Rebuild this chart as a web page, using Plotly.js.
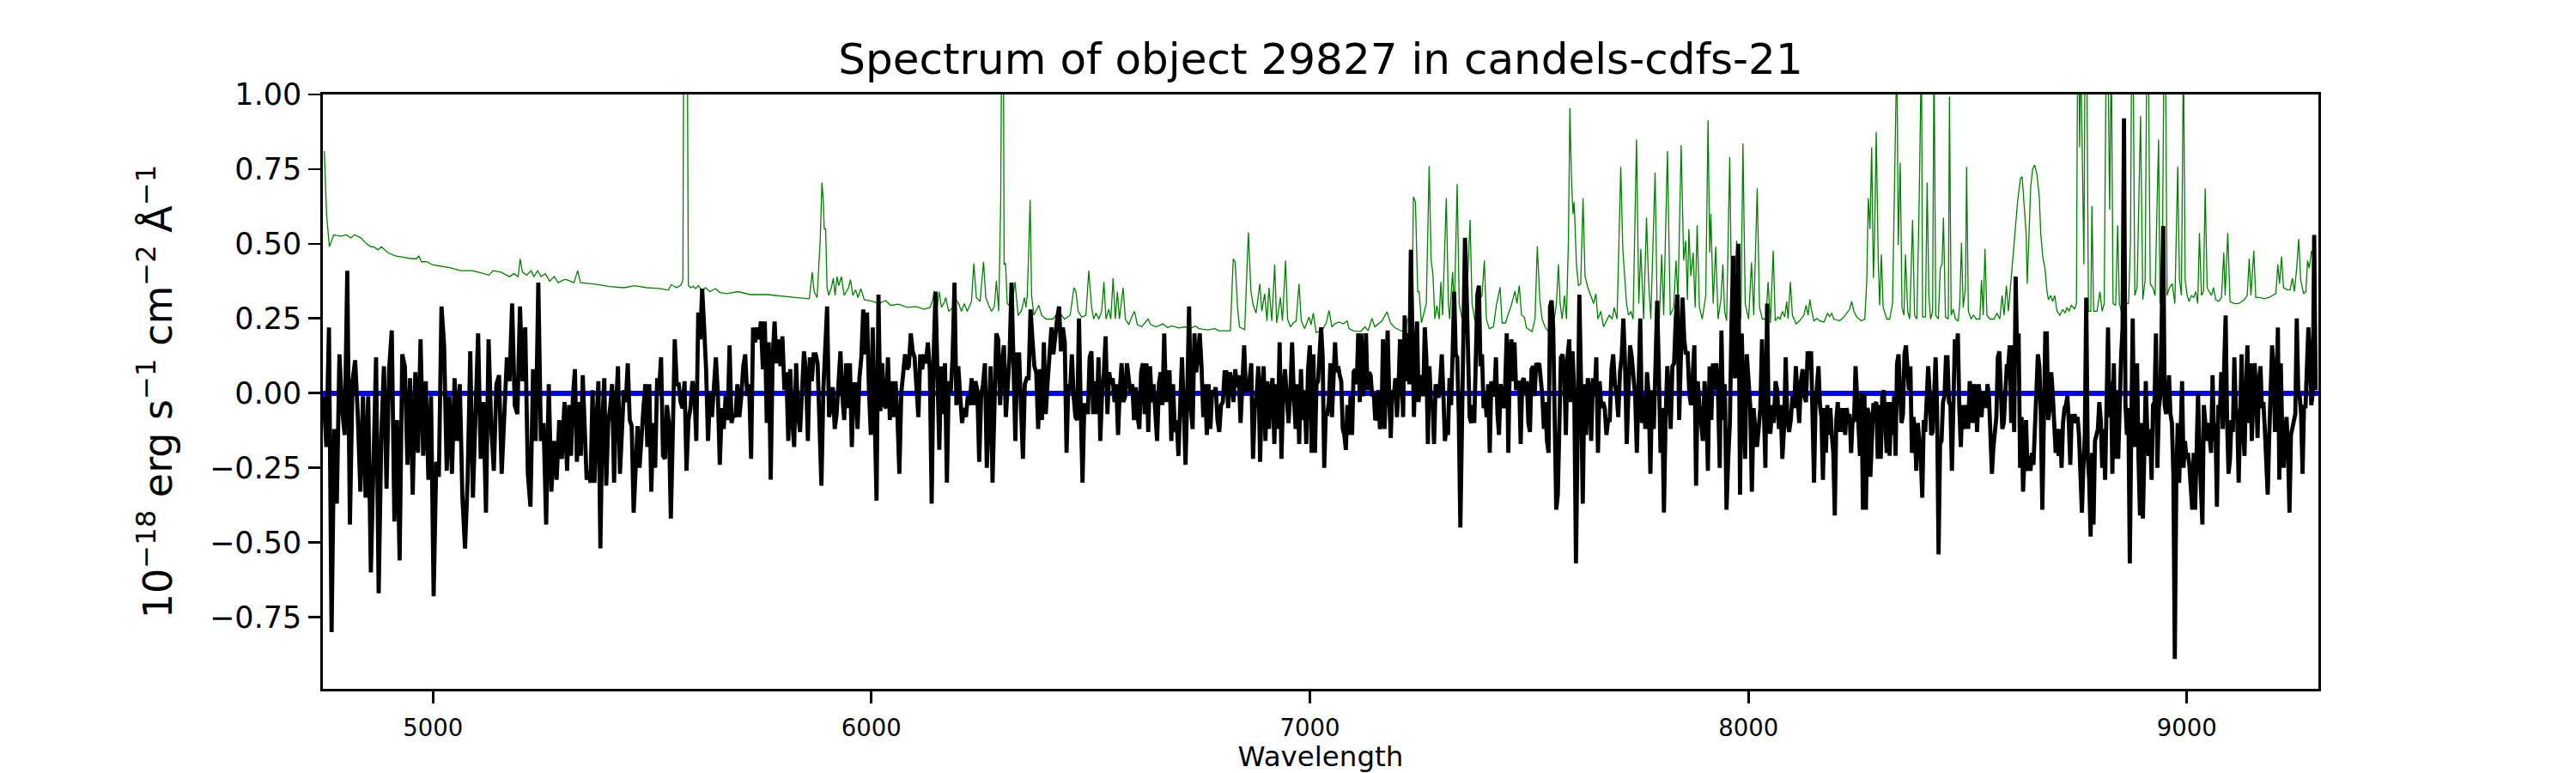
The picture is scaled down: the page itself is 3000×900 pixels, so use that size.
<!DOCTYPE html>
<html>
<head>
<meta charset="utf-8">
<script src="https://cdn.plot.ly/plotly-3.0.1.min.js"></script>
<style>html,body{margin:0;padding:0;background:#fff;}#chart{width:3000px;height:900px;}</style>
</head>
<body>
<div id="chart"></div>
<script>
// ---------- DATA ----------
const chartTitle = "Spectrum of object 29827 in candels-cdfs-21";
const xTitle = "Wavelength";
const yTitle = "10<sup>\u221218</sup> erg s<sup>\u22121</sup> cm<sup>\u22122</sup> \u00C5<sup>\u22121</sup>";

// Flux (black), split into wavelength pieces; each piece is sampled evenly over its span [start, end)
const fluxSpan0 = [4751, 5306];
const flux0 = [-0.01,-0.18,0.22,-0.80,-0.12,-0.37,0.13,-0.05,-0.14,0.41,-0.44,0.04,0.11,-0.07,-0.33,-0.01,-0.35,-0.01,-0.60,-0.18,0.12,-0.67,-0.14,0.09,-0.32,0.08,0.21,-0.43,-0.09,-0.56,0.13,0.09,-0.24,0.05,-0.34,0.07,-0.20,0.18,-0.21,0.04,-0.29,-0.01,-0.68,-0.23,-0.28,0.29,0.16,-0.26,-0.01,-0.27,0.05,-0.16,0.03,-0.35,-0.52,-0.29,0.14,-0.35,-0.01,0.20,-0.22,-0.03,-0.40,0.18,-0.11,-0.26,0.03,0.06,-0.27,-0.04,0.12,0.04,0.30,-0.04,-0.07,0.29,0.04,0.22,-0.27,-0.38,0.08,-0.16,0.37,-0.16,-0.10,-0.44,0.03,-0.33,-0.16,-0.29,-0.09,-0.22,-0.03];
const fluxSpan1 = [5306, 5873];
const flux1 = [-0.26,-0.04,-0.21,-0.01,0.08,-0.23,-0.03,-0.21,0.06,-0.14,-0.29,-0.26,-0.30,0.01,-0.30,-0.10,0.04,-0.52,-0.10,0.05,-0.31,-0.10,-0.05,0.03,-0.30,-0.05,0.09,-0.27,-0.08,0.01,-0.03,0.10,-0.09,-0.11,-0.40,-0.21,-0.11,-0.25,-0.12,-0.05,0.03,-0.18,0.03,-0.33,-0.10,-0.25,0.05,0.01,0.12,-0.21,-0.22,-0.04,-0.10,-0.42,-0.13,0.18,0.03,0.03,-0.03,-0.05,0.04,-0.26,-0.09,-0.05,0.04,0.01,-0.16,0.27,0.18,0.35,0.22,0.08,-0.16,0.00,-0.08,0.00,0.12,0.00,-0.24,-0.05,-0.12,-0.01,-0.09,0.16,-0.10,-0.07,-0.08,0.03,-0.08,-0.01,0.09,0.13,-0.01,0.03,-0.22,0.22,0.17,0.22,0.18,0.24,0.08,0.24,-0.10,0.17,-0.29,0.12,0.24,0.10,0.18,0.09,0.19,0.01,0.07,-0.16,0.08,-0.09,-0.18,0.10,-0.07,-0.13,0.01,0.14,0.07,-0.16,0.12,0.04,0.13];
const fluxSpan2 = [5873, 6441];
const flux2 = [0.13,0.10,-0.13,-0.31,0.01,0.20,0.29,-0.08,-0.05,0.02,-0.12,-0.07,0.07,0.14,-0.01,-0.09,0.10,-0.05,0.10,-0.18,0.03,0.03,-0.12,0.05,0.12,0.28,0.13,0.27,0.01,-0.14,0.22,-0.07,-0.36,0.33,-0.06,0.10,-0.04,-0.05,0.12,-0.09,0.04,-0.08,0.04,-0.08,-0.27,0.00,0.07,0.13,0.08,0.09,0.20,0.14,0.12,0.03,-0.08,0.13,0.08,0.13,0.10,0.17,0.08,-0.37,0.12,0.34,0.07,-0.19,0.09,-0.07,0.10,-0.30,0.04,0.00,0.12,0.37,-0.04,0.09,-0.01,-0.10,-0.05,-0.08,-0.01,-0.04,0.05,-0.04,0.04,0.01,-0.23,-0.01,0.03,0.10,-0.25,-0.03,0.09,-0.30,0.01,0.20,0.18,-0.04,0.10,0.16,-0.08,0.01,0.13,0.37,0.12,-0.16,0.13,0.13,-0.05,-0.22,0.03,0.05,0.05,0.28,0.18,0.09,0.07,-0.12,0.08,-0.09,0.17,-0.07,0.04,0.14,0.22,0.13,0.20,0.25,0.29,0.14,0.22];
const fluxSpan3 = [6441, 7008];
const flux3 = [0.17,-0.20,0.03,0.01,0.13,-0.01,-0.08,-0.09,0.25,-0.05,-0.30,-0.04,-0.04,-0.07,0.12,0.14,-0.07,0.04,-0.07,0.12,-0.16,0.00,0.07,0.19,-0.07,0.07,0.03,0.05,-0.03,0.03,-0.14,0.01,0.10,-0.03,-0.01,0.10,0.04,0.00,0.03,-0.09,0.02,-0.08,-0.12,0.07,0.10,-0.07,0.10,-0.13,0.09,-0.03,0.03,-0.07,-0.16,0.03,0.07,-0.04,0.20,-0.03,0.07,0.07,-0.16,0.03,-0.13,-0.09,-0.21,-0.04,0.12,-0.05,-0.24,0.00,0.29,-0.05,-0.12,0.20,0.07,0.12,0.20,0.09,-0.08,0.03,-0.14,0.03,-0.12,0.01,-0.01,0.02,-0.09,-0.13,-0.04,-0.03,0.07,0.07,-0.05,0.07,0.04,-0.03,0.08,0.02,0.06,-0.10,0.04,0.16,0.01,0.01,0.04,0.10,-0.22,-0.05,-0.01,0.09,-0.23,0.01,0.09,-0.16,0.04,-0.12,0.01,0.05,-0.17,0.03,-0.12,0.17,-0.22,0.01,0.08,0.01,-0.10,0.00,0.17,-0.01,-0.12,0.03,-0.17,0.08,-0.09,0.01,-0.17,0.08,0.16,-0.20];
const fluxSpan4 = [7008, 7576];
const flux4 = [0.13,-0.20,0.03,0.04,0.14,0.22,0.12,-0.25,-0.07,-0.07,-0.03,0.10,-0.08,0.03,0.17,0.07,0.09,0.06,0.04,-0.12,-0.14,-0.19,-0.04,-0.14,-0.01,-0.14,0.07,0.08,0.03,0.20,-0.03,0.20,-0.01,0.03,0.20,0.01,0.07,0.06,-0.01,0.00,-0.09,-0.08,0.01,-0.12,-0.09,0.18,-0.12,0.04,0.21,-0.01,-0.15,0.01,-0.01,0.05,-0.08,0.01,0.18,0.09,-0.08,0.26,0.04,0.20,0.03,0.48,0.07,-0.08,0.12,0.24,-0.03,0.04,0.06,-0.01,0.22,0.12,-0.17,0.09,-0.03,-0.03,-0.17,0.03,-0.01,-0.01,0.04,0.13,0.00,-0.16,-0.12,-0.14,0.05,-0.04,0.13,0.34,0.13,0.12,-0.08,-0.45,-0.12,0.20,0.52,0.35,0.17,-0.08,-0.10,-0.04,-0.10,0.09,0.33,0.36,0.09,0.13,-0.05,-0.01,-0.08,0.03,-0.20,0.04,-0.01,0.00,0.12,-0.07,-0.14,0.03,0.00,-0.05,0.03,0.20,-0.20,0.12,0.18,0.04,0.17,0.01,0.03,0.04,-0.17,0.04,0.05,0.00,0.04,-0.10,-0.13,0.08,0.09,-0.01,0.10,0.09,0.10,0.04,-0.01,-0.12,-0.03,-0.16,-0.20,0.29,0.31,0.22,-0.03,-0.39,-0.34,-0.10,0.12];
const fluxSpan5 = [7576, 8143];
const flux5 = [0.13,0.09,-0.14,0.12,0.18,-0.03,0.14,-0.01,-0.57,-0.01,0.33,0.03,-0.37,0.03,-0.14,0.05,0.01,-0.16,0.05,-0.01,0.12,-0.20,0.04,-0.05,-0.03,-0.05,-0.14,-0.09,-0.09,0.08,0.13,0.03,0.00,-0.08,0.07,0.12,0.25,0.10,-0.17,0.00,0.16,0.12,0.04,-0.01,-0.20,0.12,0.25,-0.10,-0.01,-0.12,0.07,-0.01,-0.27,0.01,-0.12,0.09,0.31,0.07,-0.20,-0.05,-0.40,-0.08,0.09,0.00,-0.12,0.09,0.10,0.25,0.33,-0.09,0.12,0.32,0.18,0.13,0.14,0.00,-0.04,0.09,0.16,-0.31,0.04,-0.04,-0.09,-0.16,0.04,-0.03,-0.26,0.09,-0.09,0.10,0.01,0.10,0.00,-0.25,0.21,-0.09,0.03,-0.39,-0.22,-0.10,0.25,0.46,0.05,0.21,0.50,-0.34,0.20,-0.09,-0.22,0.13,0.03,-0.04,-0.33,-0.05,-0.12,-0.18,-0.12,-0.05,0.18,-0.01,-0.25,0.30,-0.13,-0.13,-0.04,-0.10,0.04,0.01,-0.12,-0.04,-0.22,-0.12,0.12,-0.09,-0.13,-0.09,-0.01,-0.05,0.09,-0.01,-0.10,0.04,0.08,-0.01,-0.03,0.14,0.08];
const fluxSpan6 = [8143, 8711];
const flux6 = [0.14,-0.10,-0.30,-0.04,0.01,0.09,-0.04,-0.08,-0.29,-0.05,-0.20,-0.04,-0.14,-0.05,-0.14,-0.20,-0.41,-0.09,-0.03,-0.13,-0.05,-0.13,-0.05,-0.14,-0.05,-0.09,-0.07,-0.20,-0.09,-0.09,0.09,-0.01,-0.09,-0.21,0.00,-0.39,0.00,-0.39,-0.05,-0.07,-0.28,-0.12,-0.04,-0.04,-0.03,-0.22,-0.04,-0.22,-0.01,0.01,-0.10,-0.20,-0.03,-0.21,-0.03,-0.14,-0.01,-0.21,0.10,0.13,0.01,-0.10,-0.07,0.13,0.16,0.09,0.01,0.09,-0.20,-0.08,-0.12,-0.26,-0.10,-0.16,-0.21,-0.35,-0.09,-0.13,-0.01,0.09,0.00,-0.14,-0.13,0.04,0.12,-0.05,-0.54,-0.17,-0.16,-0.03,-0.01,0.12,0.12,-0.03,-0.04,-0.26,-0.05,0.18,0.12,0.20,-0.05,-0.18,-0.04,-0.12,-0.07,-0.04,-0.12,0.04,0.01,-0.10,0.03,0.00,-0.13,0.03,-0.01,-0.08,0.00,0.00,-0.05,0.03,-0.01,-0.12,-0.27,-0.18,-0.12,-0.08,0.12,0.14,0.01,-0.12,-0.10,-0.01,0.09,0.09,0.16,-0.10,0.16,-0.13,0.39,0.12,0.20,-0.25,-0.08,-0.33,-0.20,-0.09,-0.26,-0.21,-0.26,-0.20,-0.24,-0.09,0.00,0.13,0.09,-0.08,-0.39,-0.01,0.20,0.20,-0.09,-0.05,0.07,0.00,-0.10,-0.20,-0.12,-0.21];
const fluxSpan7 = [8711, 9297];
const flux7 = [-0.12,-0.25,-0.10,-0.05,-0.04,-0.01,-0.10,-0.24,-0.07,-0.10,-0.07,-0.10,-0.08,-0.14,-0.27,-0.40,-0.25,-0.14,0.32,-0.21,-0.29,-0.48,-0.20,-0.44,-0.16,-0.14,-0.12,-0.03,-0.09,-0.25,-0.12,-0.29,-0.07,0.22,-0.08,0.04,-0.27,0.10,-0.22,0.01,-0.22,-0.01,0.12,0.22,0.92,-0.04,-0.14,-0.05,-0.57,-0.12,0.25,-0.18,-0.04,0.10,-0.22,-0.41,-0.10,-0.42,-0.20,0.04,-0.13,-0.21,-0.12,-0.29,-0.04,-0.03,0.20,-0.25,-0.05,-0.01,0.25,0.56,-0.04,-0.07,-0.03,0.06,-0.07,-0.10,-0.27,-0.89,-0.30,-0.10,-0.30,-0.14,0.04,-0.25,-0.16,-0.22,-0.20,-0.24,-0.34,-0.39,-0.20,-0.39,-0.20,0.00,-0.20,-0.38,-0.44,-0.04,-0.09,-0.16,-0.10,-0.14,-0.20,0.06,-0.16,-0.10,-0.38,-0.04,-0.07,0.07,-0.12,0.09,0.26,-0.09,-0.27,-0.22,-0.09,-0.13,0.12,-0.05,-0.08,-0.30,0.03,0.13,-0.12,-0.21,0.01,0.16,-0.10,0.10,-0.16,-0.01,0.10,0.01,-0.15,0.04,0.09,-0.05,-0.03,-0.12,-0.22,-0.34,-0.15,0.01,0.16,0.09,-0.13,-0.03,0.22,-0.29,0.10,-0.14,-0.25,-0.13,-0.08,-0.20,-0.40,-0.14,-0.12,-0.10,-0.07,0.25,0.01,-0.01,-0.07,-0.27,-0.04,-0.05,0.08,0.22,0.12,-0.04,0.00,0.53,0.01];

// Error / noise spectrum (green): wavelength and value pairs
const errWave = [4752.2,4757.4,4763.9,4773.7,4790.0,4803.0,4812.8,4821.3,4835.6,4848.7,4858.5,4865.0,4874.8,4882.6,4897.6,4913.9,4933.5,4953.1,4962.8,4967.4,4974.0,4985.7,4998.7,5018.3,5037.9,5063.9,5090.0,5116.1,5127.9,5137.0,5155.3,5174.8,5184.6,5194.4,5199.0,5204.2,5214.0,5223.8,5230.3,5238.8,5246.6,5256.4,5266.2,5276.6,5285.7,5298.8,
5305.3,5321.6,5330.1,5336.6,5370.5,5403.1,5435.8,5459.9,5488.0,5520.6,5536.9,5543.4,5556.4,5566.2,5570.1,5572.1,5576.0,5579.9,5582.5,5587.8,5593.6,5598.8,5605.4,5613.2,5621.7,5631.5,5644.5,5654.3,5670.6,5696.7,5722.8,5761.9,5794.5,5827.1,5858.5,5861.7,5865.0,5869.5,
5876.1,5883.2,5887.2,5890.4,5892.4,5895.6,5898.9,5902.8,5908.7,5913.2,5917.2,5921.7,5925.6,5931.5,5938.0,5947.8,5952.4,5957.6,5964.1,5969.3,5975.9,5983.7,6003.3,6016.3,6032.6,6043.7,6062.0,6081.5,6101.1,6120.7,6133.7,6140.2,6143.5,6149.4,6154.6,6159.8,6165.0,6169.6,6176.1,6185.9,6192.4,6199.0,6205.5,6212.0,6218.5,6228.3,6233.5,6239.4,6247.9,6255.7,6260.9,6267.5,6274.0,6280.5,6285.1,6290.3,6294.9,6297.5,6300.7,6302.7,6305.9,6309.8,6319.6,6327.5,6334.6,6342.5,6349.0,6352.3,6355.5,6358.8,6362.0,6365.3,6370.5,6381.6,6388.1,6397.9,6414.2,6420.7,6427.3,6433.8,
6440.3,6453.3,6461.8,6466.4,6471.6,6479.4,6489.2,6495.7,6502.3,6506.8,6512.1,6518.6,6525.1,6530.3,6534.9,6541.4,6546.0,6551.2,6556.4,6561.0,6565.5,6574.0,6579.2,6587.1,6593.6,6600.1,6606.6,6616.4,6630.8,6637.3,6649.0,6665.3,6675.1,6684.9,6701.2,6714.3,6727.3,6739.1,6746.9,6766.5,6782.8,6792.5,6818.6,6825.2,6829.7,6835.0,6839.5,6851.3,6859.7,6865.6,6870.8,6877.3,6885.8,6890.4,6896.9,6902.1,6906.7,6913.2,6919.8,6924.3,6932.8,6937.4,6944.5,6949.1,6955.6,6962.2,6968.7,6975.2,6980.4,6988.2,6998.0,7002.6,
7007.8,7014.3,7027.4,7037.2,7043.7,7050.2,7056.7,7066.5,7076.3,7084.8,7089.3,7099.1,7115.4,7125.2,7133.0,7141.5,7148.1,7164.4,7176.1,7183.9,7193.7,7203.5,7216.6,7223.1,7232.9,7236.1,7240.7,7245.9,7249.2,7254.4,7265.5,7272.0,7276.6,7280.5,7285.0,7289.6,7294.8,7298.7,7302.6,7311.1,7315.8,7318.6,7325.5,7329.4,7335.9,7340.5,7347.0,7356.8,7365.3,7369.8,7376.4,7382.9,7392.6,7397.9,7402.5,7409.0,7418.7,7425.3,7433.8,7438.3,7446.2,7451.4,7457.9,7467.7,7472.2,7477.5,7482.7,7489.2,7493.8,7506.8,7513.4,7518.6,7524.4,7529.7,7536.2,7542.7,7549.2,7555.7,7562.3,7566.8,7570.7,
7575.3,7580.5,7585.1,7589.6,7592.9,7596.8,7600.1,7602.7,7607.9,7612.5,7617.7,7622.9,7627.5,7634.0,7640.5,7647.1,7652.3,7656.8,7663.4,7669.9,7676.4,7682.9,7689.5,7694.0,7700.5,7709.0,7713.6,7717.5,7722.1,7726.6,7731.9,7737.1,7744.9,7750.1,7754.7,7761.2,7767.7,7772.3,7777.5,7787.3,7791.9,7797.1,7802.3,7806.9,7815.4,7821.9,7829.7,7834.9,7839.5,7846.7,7852.5,7857.1,7861.0,7864.3,7868.8,7874.1,7878.6,7883.2,7888.4,7894.9,7902.8,7908.0,7911.9,7914.5,7919.7,7925.6,7930.8,7937.3,7941.9,7945.8,7950.4,7957.5,7962.1,7966.7,7973.2,7977.8,7983.0,7987.6,7992.8,8000.6,8007.1,8012.3,8020.2,8025.4,8031.9,8039.8,8045.0,8050.2,8056.7,8061.3,8067.8,8072.4,8077.6,8082.8,8087.4,8090.6,8095.8,8100.4,8108.9,8116.7,8126.5,8131.7,8136.3,8140.2,
8142.9,8149.4,8155.9,8162.5,8172.3,8180.7,8185.3,8189.9,8195.1,8208.1,8217.9,8224.4,8231.0,8235.5,8240.7,8247.3,8257.1,8265.5,8270.1,8273.4,8277.3,8281.2,8285.1,8287.7,8291.6,8296.2,8299.4,8303.4,8307.3,8315.8,8322.3,8328.8,8333.4,8336.0,8338.6,8341.9,8346.4,8350.3,8354.9,8358.2,8363.4,8367.9,8374.5,8379.0,8384.3,8389.5,8392.1,8394.7,8397.3,8403.8,8407.7,8411.7,8415.6,8420.1,8423.4,8427.3,8433.2,8437.7,8441.7,8444.9,8449.5,8456.0,8458.6,8462.5,8467.1,8472.3,8478.8,8482.1,8486.0,8489.9,8495.1,8497.7,8501.7,8508.2,8513.4,8519.9,8527.8,8531.7,8535.6,8539.5,8544.1,8550.6,8560.4,8566.9,8573.4,8578.7,8583.2,8588.4,8593.0,8599.5,8607.3,8613.9,8620.4,8624.3,8628.9,8633.4,8636.0,8640.0,8643.9,8648.4,8653.0,8658.2,8663.4,8666.7,8671.3,8676.5,8681.1,8684.3,8689.5,8694.1,8698.7,8703.9,
8710.4,8716.9,8722.1,8726.7,8731.3,8736.5,8744.3,8748.2,8750.8,8753.5,8755.4,8758.0,8761.9,8765.2,8767.8,8771.7,8775.6,8780.9,8783.5,8787.4,8795.2,8801.7,8806.9,8811.5,8816.1,8820.0,8823.9,8827.8,8831.7,8837.6,8842.2,8846.1,8850.6,8855.2,8867.0,8871.5,8874.1,8877.4,8881.3,8886.5,8894.4,8899.6,8904.8,8908.7,8912.0,8916.5,8922.4,8927.6,8932.2,8935.5,8938.7,8943.9,8947.8,8951.1,8955.0,8960.2,8966.8,8972.6,8979.2,8983.1,8987.6,8992.2,8996.1,9000.7,9005.2,9010.5,9015.7,9020.2,9024.8,9028.7,9033.3,9037.8,9041.8,9046.3,9050.9,9056.1,9060.7,9065.9,9072.4,9079.0,9084.2,9087.4,9093.3,9098.5,9108.3,9118.1,9131.1,9137.7,9142.2,9146.2,9152.7,9157.2,9167.0,9176.8,9186.6,9196.4,9203.0,9207.5,9211.4,9216.0,9220.5,9229.0,9235.5,9240.7,9245.3,9250.5,9255.1,9259.6,9266.2,9271.4,9275.3,9279.2,9284.4,9288.3,9292.3];
const errFlux = [0.81,0.60,0.49,0.53,0.525,0.53,0.52,0.53,0.52,0.50,0.49,0.49,0.48,0.49,0.47,0.46,0.455,0.45,0.45,0.46,0.44,0.44,0.43,0.425,0.42,0.41,0.41,0.40,0.395,0.41,0.405,0.39,0.40,0.39,0.45,0.405,0.395,0.41,0.39,0.41,0.39,0.40,0.375,0.39,0.37,0.38,
0.38,0.37,0.41,0.37,0.365,0.357,0.353,0.36,0.353,0.35,0.345,0.363,0.353,0.363,0.38,1.3,1.6,1.3,0.36,0.353,0.358,0.35,0.36,0.342,0.353,0.34,0.35,0.337,0.333,0.34,0.33,0.33,0.324,0.32,0.316,0.353,0.405,0.34,
0.32,0.51,0.705,0.64,0.55,0.55,0.353,0.327,0.353,0.385,0.327,0.39,0.36,0.39,0.327,0.353,0.38,0.327,0.346,0.32,0.35,0.313,0.307,0.30,0.31,0.294,0.298,0.287,0.29,0.281,0.287,0.316,0.342,0.281,0.34,0.287,0.30,0.32,0.274,0.287,0.313,0.30,0.274,0.30,0.274,0.307,0.434,0.32,0.307,0.44,0.32,0.294,0.274,0.29,0.376,0.274,0.64,1.3,1.3,0.43,0.435,0.30,0.287,0.372,0.26,0.277,0.32,0.287,0.327,0.48,0.647,0.327,0.261,0.294,0.261,0.248,0.248,0.261,0.242,0.261,
0.248,0.261,0.353,0.34,0.274,0.255,0.261,0.41,0.287,0.248,0.268,0.248,0.274,0.372,0.248,0.281,0.248,0.385,0.248,0.34,0.248,0.353,0.248,0.229,0.255,0.274,0.229,0.222,0.248,0.229,0.222,0.232,0.219,0.225,0.218,0.222,0.216,0.225,0.216,0.212,0.216,0.209,0.209,0.45,0.438,0.287,0.222,0.212,0.538,0.34,0.294,0.268,0.366,0.274,0.333,0.242,0.353,0.242,0.431,0.235,0.32,0.242,0.444,0.248,0.222,0.235,0.242,0.366,0.242,0.216,0.255,0.229,
0.268,0.203,0.209,0.235,0.277,0.222,0.232,0.238,0.232,0.242,0.216,0.209,0.206,0.222,0.209,0.25,0.222,0.242,0.272,0.235,0.219,0.212,0.203,0.248,0.261,0.657,0.64,0.34,0.34,0.235,0.30,0.76,0.444,0.40,0.248,0.294,0.248,0.372,0.261,0.653,0.30,0.248,0.405,0.274,0.70,0.30,0.248,0.274,0.58,0.30,0.242,0.30,0.327,0.444,0.248,0.216,0.222,0.294,0.355,0.235,0.235,0.261,0.287,0.342,0.30,0.36,0.261,0.255,0.219,0.206,0.248,0.492,0.313,0.248,0.222,0.209,0.216,0.229,0.30,0.431,0.30,
0.248,0.327,0.248,0.51,0.954,0.705,0.60,0.64,0.431,0.36,0.366,0.653,0.392,0.353,0.327,0.30,0.333,0.248,0.274,0.222,0.242,0.261,0.248,0.287,0.248,0.758,0.483,0.392,0.30,0.261,0.274,0.248,0.849,0.30,0.483,0.248,0.588,0.379,0.248,0.738,0.287,0.248,0.464,0.261,0.81,0.261,0.287,0.444,0.313,0.83,0.444,0.51,0.313,0.549,0.392,0.47,0.287,0.562,0.287,0.248,0.327,0.914,0.47,0.60,0.30,0.49,0.248,0.313,0.431,0.274,0.242,0.79,0.274,0.261,0.51,0.418,0.248,0.836,0.30,0.248,0.438,0.261,0.686,0.287,0.248,0.248,0.372,0.235,0.477,0.242,0.255,0.248,0.274,0.255,0.307,0.248,0.372,0.261,0.232,0.242,0.261,0.294,0.261,0.313,
0.287,0.242,0.25,0.242,0.238,0.268,0.255,0.268,0.248,0.242,0.255,0.268,0.281,0.307,0.274,0.255,0.242,0.248,0.379,0.653,0.549,0.823,0.385,0.51,0.875,0.444,0.294,0.464,0.287,0.248,0.248,0.30,0.705,1.16,1.16,0.496,0.771,0.287,0.261,0.464,0.274,0.248,0.581,0.261,0.248,0.64,1.16,1.16,0.255,0.255,0.705,0.327,0.248,0.274,1.16,0.261,0.248,0.418,0.431,0.588,0.255,0.248,0.993,0.261,0.281,0.248,0.242,0.30,0.503,0.287,0.353,0.758,0.274,0.248,0.261,0.248,0.248,0.379,0.261,0.483,0.261,0.248,0.248,0.268,0.248,0.327,0.261,0.36,0.274,0.379,0.523,0.64,0.718,0.725,0.64,0.536,0.366,0.523,0.692,0.751,0.764,0.732,0.66,0.536,0.457,0.418,0.34,0.313,0.327,0.307,0.327,0.274,
0.261,0.281,0.268,0.287,0.274,0.294,0.281,0.30,1.16,1.16,0.823,1.16,0.771,0.431,1.16,1.16,0.274,0.274,0.627,0.274,0.274,0.34,0.274,0.30,1.16,1.16,0.614,1.16,0.30,0.294,0.562,0.30,0.274,0.30,0.30,0.51,1.16,1.16,0.327,0.353,0.927,0.313,0.379,1.16,1.16,0.366,0.353,0.327,0.64,0.849,0.30,0.379,1.16,1.16,0.327,0.353,0.366,0.30,0.758,0.379,0.327,1.16,0.379,0.327,0.307,0.327,0.32,0.34,0.30,0.536,0.327,0.34,0.686,0.353,0.34,0.327,0.353,0.313,0.307,0.32,0.47,0.327,0.536,0.307,0.30,0.30,0.313,0.327,0.451,0.327,0.477,0.32,0.32,0.316,0.32,0.327,0.333,0.431,0.366,0.457,0.353,0.346,0.346,0.385,0.34,0.418,0.516,0.379,0.333,0.34,0.444,0.418,0.477,0.457,0.483];

// Axis ranges and ticks
const xRange = [4749, 9300];
const yRange = [-0.99, 1.0];
const xTickVals = [5000, 6000, 7000, 8000, 9000];
const yTickVals = [-0.75, -0.5, -0.25, 0, 0.25, 0.5, 0.75, 1.0];

// ---------- BUILD ----------
const fluxPieces = [[fluxSpan0, flux0],[fluxSpan1, flux1],[fluxSpan2, flux2],[fluxSpan3, flux3],
                    [fluxSpan4, flux4],[fluxSpan5, flux5],[fluxSpan6, flux6],[fluxSpan7, flux7]];
const fluxWave = [], fluxVal = [];
fluxPieces.forEach(([span, vals]) => {
  const n = vals.length, step = (span[1] - span[0]) / n;
  vals.forEach((v, i) => { fluxWave.push(span[0] + i * step); fluxVal.push(v); });
});

const FONT = "DejaVu Sans, Verdana, sans-serif";

const traces = [
  { x: errWave, y: errFlux, type: "scatter", mode: "lines",
    line: { color: "#008000", width: 1.3 }, hoverinfo: "skip", showlegend: false },
  { x: fluxWave, y: fluxVal, type: "scatter", mode: "lines",
    line: { color: "#000000", width: 4.8 }, hoverinfo: "skip", showlegend: false }
];

const layout = {
  width: 3000, height: 900,
  margin: { l: 376, r: 300, t: 110, b: 98, pad: 0 },
  paper_bgcolor: "#ffffff", plot_bgcolor: "#ffffff",
  showlegend: false,
  font: { family: FONT, color: "#000000" },
  title: { text: chartTitle, font: { family: FONT, size: 50, color: "#000" },
           x: 0.5, xref: "paper", xanchor: "center", y: 1 - 68 / 900, yref: "container", yanchor: "middle" },
  xaxis: {
    range: xRange, tickmode: "array", tickvals: xTickVals, tickformat: "d",
    ticks: "outside", ticklen: 14, tickwidth: 2.7, tickcolor: "#000",
    tickfont: { family: FONT, size: 27.5, color: "#000" }, ticklabelstandoff: 5,
    showline: true, linecolor: "#000", linewidth: 2.7, mirror: true,
    showgrid: false, zeroline: false,
    title: { text: xTitle, font: { family: FONT, size: 32.5, color: "#000" }, standoff: 4 }
  },
  yaxis: {
    range: yRange, tickmode: "array", tickvals: yTickVals, tickformat: ".2f",
    ticks: "outside", ticklen: 14, tickwidth: 2.7, tickcolor: "#000",
    tickfont: { family: FONT, size: 35, color: "#000" }, ticklabelstandoff: 1,
    showline: true, linecolor: "#000", linewidth: 2.7, mirror: true,
    showgrid: false,
    zeroline: true, zerolinecolor: "#0000ff", zerolinewidth: 6,
    title: { text: yTitle, font: { family: FONT, size: 46, color: "#000" }, standoff: 29 }
  }
};

Plotly.newPlot("chart", traces, layout, { staticPlot: true, displayModeBar: false });
</script>
</body>
</html>
